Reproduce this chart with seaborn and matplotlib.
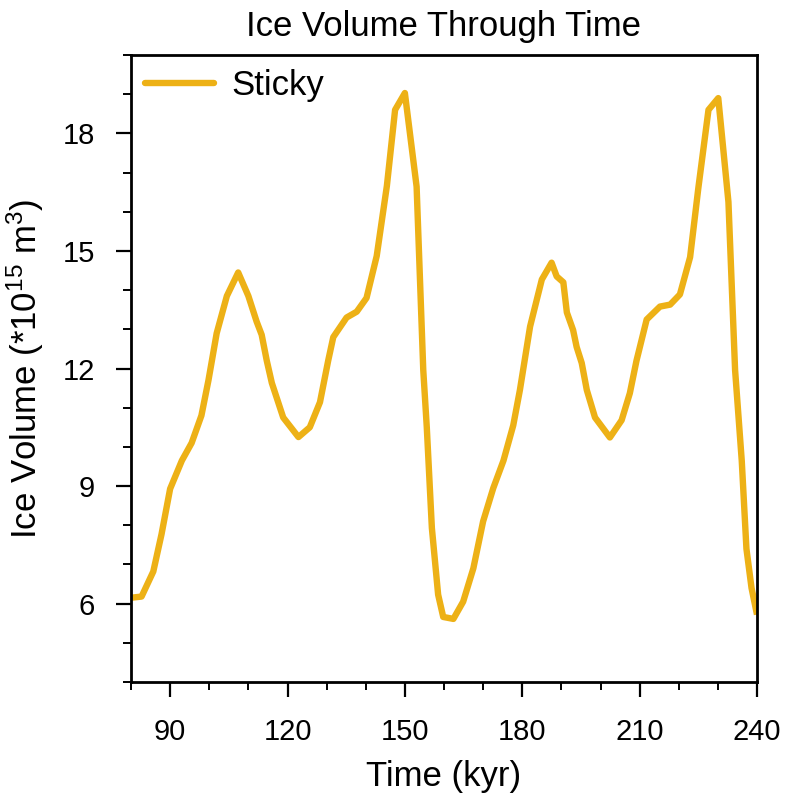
import matplotlib
matplotlib.use("Agg")
import matplotlib.pyplot as plt
from matplotlib.ticker import MultipleLocator
import pandas as pd
import seaborn as sns

# Modelled ice volume (10^15 m^3) against time (kyr)
time_kyr = [
    80.0, 82.7, 85.7, 87.8, 90.0, 93.0, 95.5, 98.0, 99.8, 101.9,
    104.5, 107.4, 110.0, 112.1, 113.4, 114.7, 116.0, 118.9, 122.8, 125.7,
    128.3, 130.4, 131.7, 135.1, 137.7, 140.2, 142.8, 145.4, 147.5, 150.0,
    153.0, 154.7, 155.6, 156.9, 158.5, 159.8, 162.4, 164.9, 167.5, 170.0,
    172.6, 175.2, 177.7, 179.4, 182.0, 185.0, 187.5, 188.8, 190.5, 191.4,
    193.0, 193.9, 195.2, 196.5, 198.6, 202.4, 205.4, 207.5, 209.2, 211.8,
    215.2, 217.8, 220.3, 222.9, 225.0, 227.6, 230.1, 232.7, 234.4, 236.1,
    237.3, 238.6, 240.0,
]
ice_volume = [
    6.15, 6.18, 6.82, 7.77, 8.93, 9.65, 10.10, 10.80, 11.70, 12.90,
    13.85, 14.45, 13.85, 13.20, 12.86, 12.20, 11.63, 10.75, 10.25, 10.50,
    11.14, 12.20, 12.80, 13.30, 13.45, 13.80, 14.87, 16.66, 18.60, 19.03,
    16.64, 11.96, 10.50, 7.93, 6.23, 5.66, 5.61, 6.05, 6.90, 8.10,
    8.95, 9.65, 10.55, 11.45, 13.07, 14.27, 14.70, 14.35, 14.20, 13.43,
    12.98, 12.55, 12.14, 11.45, 10.75, 10.24, 10.68, 11.37, 12.20, 13.25,
    13.58, 13.63, 13.89, 14.84, 16.60, 18.60, 18.90, 16.25, 11.96, 9.65,
    7.40, 6.40, 5.72,
]
series_name = "Sticky"

df = pd.DataFrame({"Time": time_kyr, "Volume": ice_volume, "Run": series_name})

sns.set_style("ticks")
plt.rcParams["font.family"] = ["Liberation Sans", "DejaVu Sans"]
plt.rcParams["mathtext.fontset"] = "custom"
plt.rcParams["mathtext.rm"] = "Liberation Sans"
plt.rcParams["mathtext.it"] = "Liberation Sans"
for key in ["text.color", "axes.labelcolor", "xtick.color", "ytick.color",
            "xtick.labelcolor", "ytick.labelcolor", "axes.edgecolor"]:
    plt.rcParams[key] = "black"

fig = plt.figure(figsize=(7.86, 7.99), dpi=100)
ax = fig.add_axes([131 / 786, 1 - 682 / 799, 626 / 786, 627 / 799])

sns.lineplot(data=df, x="Time", y="Volume", hue="Run", palette=["#EDB116"],
             linewidth=4.6, ax=ax, solid_capstyle="butt", solid_joinstyle="round")

ax.set_xlim(80, 240)
ax.set_ylim(4, 20)
ax.xaxis.set_major_locator(MultipleLocator(30))
ax.xaxis.set_minor_locator(MultipleLocator(10))
ax.yaxis.set_major_locator(MultipleLocator(3))
ax.yaxis.set_minor_locator(MultipleLocator(1))
ax.set_xticks([90, 120, 150, 180, 210, 240])

ax.tick_params(which="major", direction="out", length=11, width=1.6,
               labelsize=21, pad=15, top=False, right=False,
               color="black", labelcolor="black")
ax.tick_params(which="minor", direction="out", length=5.5, width=1.4,
               top=False, right=False, color="black")
for side in ["left", "right", "top", "bottom"]:
    ax.spines[side].set_visible(True)
    ax.spines[side].set_linewidth(2.0)
    ax.spines[side].set_color("black")

ax.set_title("Ice Volume Through Time", fontsize=25, pad=14, color="black")
ax.set_xlabel("Time (kyr)", fontsize=25, labelpad=10, color="black")
ax.set_ylabel(r"Ice Volume (*10$^{15}$ m$^{3}$)", fontsize=25, labelpad=12,
              color="black")

leg = ax.legend(loc="upper left", frameon=False, fontsize=25, handlelength=2.0,
                handletextpad=0.5, borderaxespad=0.1, borderpad=0.3)
for text in leg.get_texts():
    text.set_color("black")
for line in leg.get_lines():
    line.set_linewidth(4.6)
    line.set_solid_capstyle("round")

fig.savefig("out.png", dpi=100)
